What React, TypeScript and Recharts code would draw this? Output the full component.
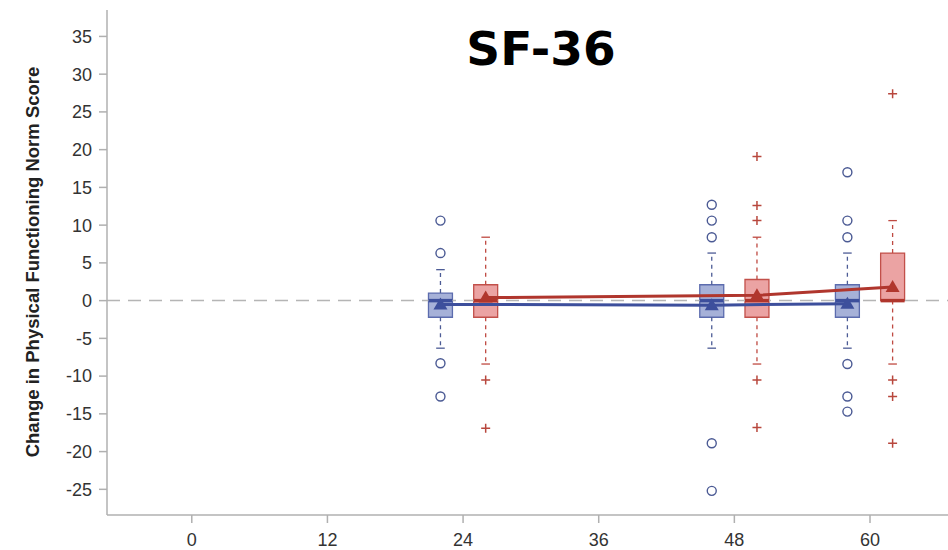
import { ComposedChart, XAxis, YAxis, Scatter, ReferenceArea, ReferenceLine } from "recharts";

// visit months and axis ticks
const visitMonths = [24, 48, 60];
const xTicks = [0, 12, 24, 36, 48, 60];
const yTicks = [-25, -20, -15, -10, -5, 0, 5, 10, 15, 20, 25, 30, 35];

// blue group (left box at each visit)
const blueQ1 = [-2.2, -2.2, -2.2];
const blueQ3 = [1.0, 2.1, 2.1];
const blueMedian = [0, 0, 0];
const blueMean = [-0.5, -0.6, -0.4];
const blueLow = [-6.3, -6.3, -6.3];
const blueHigh = [4.1, 6.3, 6.3];
const blueOutliers = [
    [10.6, 6.3, -8.3, -12.7],
    [12.7, 10.6, 8.4, -18.9, -25.2],
    [17.0, 10.6, 8.4, -8.4, -12.7, -14.7],
];

// red group (right box at each visit)
const redQ1 = [-2.2, -2.2, 0];
const redQ3 = [2.1, 2.8, 6.3];
const redMedian = [0, 0, 0];
const redMean = [0.4, 0.7, 1.8];
const redLow = [-8.4, -8.4, -8.4];
const redHigh = [8.4, 8.4, 10.6];
const redOutliers = [
    [-10.5, -16.9],
    [19.1, 12.6, 10.6, -10.5, -16.8],
    [27.4, -10.5, -12.7, -18.9],
];

const X_DOMAIN: [number, number] = [-7.5, 66.9];
const Y_DOMAIN: [number, number] = [-28.4, 38.5];
const BOX_HALF = 1.06;
const CAP_HALF = 0.38;

const BLUE = { fill: "#a6b1d8", stroke: "#5c6cae", dark: "#3d4f9c", whisker: "#4d5c96" };
const RED = { fill: "#eba3a3", stroke: "#c2504a", dark: "#b0362d", whisker: "#bf4a42" };

type Colors = typeof BLUE;

const BoxSet = ({ q1, q3, median, low, high, offset, c }: {
    q1: number[]; q3: number[]; median: number[]; low: number[]; high: number[]; offset: number; c: Colors;
}) => (
    <>
        {visitMonths.map((m, i) => {
            const x = m + offset;
            return [
                <ReferenceLine key={`wu${i}`} segment={[{ x, y: q3[i] }, { x, y: high[i] }]} stroke={c.whisker} strokeWidth={1.3} strokeDasharray="4 4" />,
                <ReferenceLine key={`wl${i}`} segment={[{ x, y: q1[i] }, { x, y: low[i] }]} stroke={c.whisker} strokeWidth={1.3} strokeDasharray="4 4" />,
                <ReferenceLine key={`cu${i}`} segment={[{ x: x - CAP_HALF, y: high[i] }, { x: x + CAP_HALF, y: high[i] }]} stroke={c.whisker} strokeWidth={1.3} />,
                <ReferenceLine key={`cl${i}`} segment={[{ x: x - CAP_HALF, y: low[i] }, { x: x + CAP_HALF, y: low[i] }]} stroke={c.whisker} strokeWidth={1.3} />,
                <ReferenceArea key={`b${i}`} x1={x - BOX_HALF} x2={x + BOX_HALF} y1={q1[i]} y2={q3[i]} fill={c.fill} fillOpacity={1} stroke={c.stroke} strokeWidth={1.3} />,
                <ReferenceLine key={`m${i}`} segment={[{ x: x - BOX_HALF, y: median[i] }, { x: x + BOX_HALF, y: median[i] }]} stroke={c.dark} strokeWidth={3.5} />,
            ];
        })}
    </>
);

const outlierPoints = (outliers: number[][], offset: number) =>
    outliers.flatMap((vals, i) => vals.map((y) => ({ x: visitMonths[i] + offset, y })));

const meanPoints = (means: number[], offset: number) =>
    means.map((y, i) => ({ x: visitMonths[i] + offset, y }));

const Circle = (p: any) => (
    <circle cx={p.cx} cy={p.cy} r={4.5} fill="none" stroke="#4b5a94" strokeWidth={1.4} />
);

const Cross = (p: any) => (
    <path d={`M${p.cx - 4.5},${p.cy} H${p.cx + 4.5} M${p.cx},${p.cy - 4.5} V${p.cy + 4.5}`} stroke="#b8473d" strokeWidth={1.5} fill="none" />
);

const triangle = (fill: string) => (p: any) => (
    <path d={`M${p.cx},${p.cy - 7} L${p.cx + 7},${p.cy + 5} L${p.cx - 7},${p.cy + 5} Z`} fill={fill} />
);

const tickStyle = { fill: "#333", fontSize: 18, fontFamily: "Liberation Sans, Arial, sans-serif" };

export default function App() {
    return (
        <div style={{ position: "absolute", left: 0, top: 0, width: 948, height: 550, background: "#fff" }}>
            <ComposedChart width={948} height={550} margin={{ top: 10, right: 0, bottom: 0, left: 0 }}>
                <XAxis
                    type="number"
                    dataKey="x"
                    domain={X_DOMAIN}
                    ticks={xTicks}
                    allowDataOverflow
                    height={35}
                    tickSize={8}
                    tickMargin={10}
                    tick={tickStyle}
                    stroke="#b0b0b0"
                    strokeWidth={1.5}
                />
                <XAxis xAxisId="top" orientation="top" type="number" domain={X_DOMAIN} allowDataOverflow height={0} tick={false} tickLine={false} stroke="#b0b0b0" strokeWidth={1.5} />
                <YAxis
                    type="number"
                    dataKey="y"
                    domain={Y_DOMAIN}
                    ticks={yTicks}
                    allowDataOverflow
                    width={107}
                    tickSize={8}
                    tickMargin={7}
                    tick={tickStyle}
                    stroke="#b0b0b0"
                    strokeWidth={1.5}
                />
                <ReferenceLine y={0} stroke="#b5b5b5" strokeWidth={1.5} strokeDasharray="13 8" />
                <BoxSet q1={blueQ1} q3={blueQ3} median={blueMedian} low={blueLow} high={blueHigh} offset={-2} c={BLUE} />
                <BoxSet q1={redQ1} q3={redQ3} median={redMedian} low={redLow} high={redHigh} offset={2} c={RED} />
                <Scatter data={outlierPoints(blueOutliers, -2)} dataKey="y" shape={Circle} isAnimationActive={false} />
                <Scatter data={outlierPoints(redOutliers, 2)} dataKey="y" shape={Cross} isAnimationActive={false} />
                <Scatter data={meanPoints(blueMean, -2)} dataKey="y" shape={triangle(BLUE.dark)} line={{ stroke: BLUE.dark, strokeWidth: 3 }} isAnimationActive={false} />
                <Scatter data={meanPoints(redMean, 2)} dataKey="y" shape={triangle(RED.dark)} line={{ stroke: RED.dark, strokeWidth: 3 }} isAnimationActive={false} />
            </ComposedChart>
            <div
                style={{
                    position: "absolute",
                    left: 541,
                    top: 25,
                    transform: "translateX(-50%)",
                    fontFamily: "DejaVu Sans, Verdana, sans-serif",
                    fontWeight: "bold",
                    fontSize: 47,
                    lineHeight: 1,
                    color: "#000",
                    whiteSpace: "nowrap",
                }}
            >
                SF-36
            </div>
            <div
                style={{
                    position: "absolute",
                    left: 33,
                    top: 262,
                    transform: "translate(-50%, -50%) rotate(-90deg)",
                    fontFamily: "Liberation Sans, Arial, sans-serif",
                    fontWeight: "bold",
                    fontSize: 18.5,
                    color: "#222",
                    whiteSpace: "nowrap",
                }}
            >
                Change in Physical Functioning Norm Score
            </div>
        </div>
    );
}
